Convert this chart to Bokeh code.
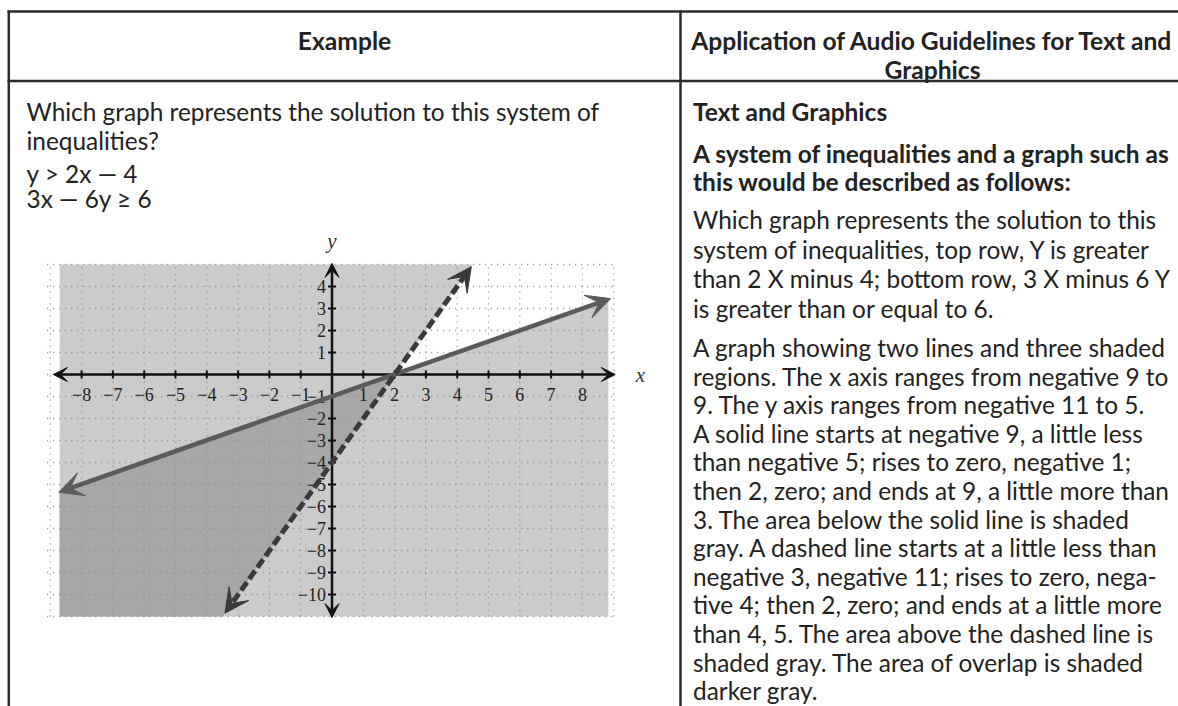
import numpy as np
from bokeh.plotting import figure
from bokeh.models import Range1d, Arrow, VeeHead
from bokeh.core.properties import value
from bokeh.embed import file_html
from bokeh.resources import INLINE

# ---------------- data ----------------
x_ticks = [-8, -7, -6, -5, -4, -3, -2, -1, 1, 2, 3, 4, 5, 6, 7, 8]
y_ticks = [-10, -9, -8, -7, -6, -5, -4, -3, -2, -1, 1, 2, 3, 4]
x_tick_labels = [str(v).replace("-", "\u2212") for v in x_ticks]
y_tick_labels = [str(v).replace("-", "\u2212") for v in y_ticks]
grid_x = list(range(-9, 10))
grid_y = list(range(-11, 6))

# solid line  3x - 6y >= 6
solid_x = [-8.73, 0, 2, 8.9]
solid_y = [-5.35, -1, 0, 3.45]
# dashed line  y > 2x - 4
dashed_x = [-3.42, 0, 2, 4.45]
dashed_y = [-10.85, -4, 0, 4.9]
# shaded window
shade_x = [-8.7, 8.83]
shade_y = [-11, 5]
axis_x = [-8.9, 9.05]
axis_y = [-11.05, 5.05]

header_left = "Example"
header_right = ["Application of Audio Guidelines for Text and", "Graphics"]
left_lines = ["Which graph represents the solution to this system of", "inequalities?"]
eq_lines = ["y > 2x \u2014 4", "3x \u2014 6y \u2265 6"]
right_bold = ["Text and Graphics", "A system of inequalities and a graph such as",
              "this would be described as follows:"]
right_para1 = ["Which graph represents the solution to this",
               "system of inequalities, top row, Y is greater",
               "than 2 X minus 4; bottom row, 3 X minus 6 Y",
               "is greater than or equal to 6."]
right_para2 = ["A graph showing two lines and three shaded",
               "regions. The x axis ranges from negative 9 to",
               "9. The y axis ranges from negative 11 to 5.",
               "A solid line starts at negative 9, a little less",
               "than negative 5; rises to zero, negative 1;",
               "then 2, zero; and ends at 9, a little more than",
               "3. The area below the solid line is shaded",
               "gray. A dashed line starts at a little less than",
               "negative 3, negative 11; rises to zero, nega-",
               "tive 4; then 2, zero; and ends at a little more",
               "than 4, 5. The area above the dashed line is",
               "shaded gray. The area of overlap is shaded",
               "darker gray."]

# ---------------- page layout (pixel -> graph units) ----------------
OX, OY = 331.5, 374.0
UX, UY = 31.3, 22.0
def dx(X):
    return (X - OX) / UX
def dy(Y):
    return (OY - Y) / UY
def dys(Ys):
    return [dy(v) for v in Ys]

W, H = 1178, 706
p = figure(width=W, height=H, x_range=Range1d(dx(0), dx(W)), y_range=Range1d(dy(H), dy(0)),
           x_axis_type=None, y_axis_type=None, toolbar_location=None, output_backend="svg",
           min_border=0, outline_line_color=None)
p.grid.visible = False

# ---------------- graph ----------------
sx0, sx1 = shade_x
sy0, sy1 = shade_y
sfit = np.polyfit(solid_x, solid_y, 1)
dfit = np.polyfit(dashed_x, dashed_y, 1)
def s_at(x):
    return float(np.polyval(sfit, x))
def d_inv(y):
    return float((y - dfit[1]) / dfit[0])
xi = float((dfit[1] - sfit[1]) / (sfit[0] - dfit[0]))
yi = s_at(xi)

light = "#cbcbcb"
dark = "#a7a7a7"
p.patch([sx0, sx1, sx1, sx0], [sy0, sy0, s_at(sx1), s_at(sx0)], fill_color=light, line_color=None)
p.patch([sx0, d_inv(sy0), d_inv(sy1), sx0], [sy0, sy0, sy1, sy1], fill_color=light, line_color=None)
p.patch([sx0, d_inv(sy0), xi, sx0], [sy0, sy0, yi, s_at(sx0)], fill_color=dark, line_color=None)

# dotted grid
p.segment(x0=grid_x, y0=[grid_y[0]] * len(grid_x), x1=grid_x, y1=[grid_y[-1]] * len(grid_x),
          line_color="#8c8c8c", line_width=1.3, line_dash="1 5")
p.segment(x0=[grid_x[0] - 0.1] * len(grid_y), y0=grid_y, x1=[grid_x[-1] + 0.1] * len(grid_y), y1=grid_y,
          line_color="#8c8c8c", line_width=1.3, line_dash="1 5")

# axes with arrows
ax_head = dict(size=14, fill_color="#111111", line_color="#111111")
p.add_layout(Arrow(x_start=axis_x[0], y_start=0, x_end=axis_x[1], y_end=0, line_width=2.5, line_color="#111111",
                   start=VeeHead(**ax_head), end=VeeHead(**ax_head)))
p.add_layout(Arrow(x_start=0, y_start=axis_y[0], x_end=0, y_end=axis_y[1], line_width=2.5, line_color="#111111",
                   start=VeeHead(**ax_head), end=VeeHead(**ax_head)))
tx = 4.0 / UX
ty = 4.0 / UY
p.segment(x0=x_ticks, y0=[-ty] * len(x_ticks), x1=x_ticks, y1=[ty] * len(x_ticks), line_color="#111111", line_width=2)
p.segment(x0=[-tx] * len(y_ticks), y0=y_ticks, x1=[tx] * len(y_ticks), y1=y_ticks, line_color="#111111", line_width=2)

serif = value("Liberation Serif")
p.text(x=x_ticks, y=[dy(OY + 19.5)] * len(x_ticks), text=x_tick_labels, text_font=serif, text_font_size="18px",
       text_align="center", text_baseline="middle", text_color="#222222")
p.text(x=[dx(OX - 6)] * len(y_ticks), y=y_ticks, text=y_tick_labels, text_font=serif, text_font_size="18px",
       text_align="right", text_baseline="middle", text_color="#222222")
p.text(x=[0], y=[dy(240)], text=["y"], text_font=serif, text_font_style="italic", text_font_size="21px",
       text_align="center", text_baseline="middle", text_color="#333333")
p.text(x=[dx(640)], y=[0], text=["x"], text_font=serif, text_font_style="italic", text_font_size="21px",
       text_align="center", text_baseline="middle", text_color="#333333")

# the two boundary lines
s_head = dict(size=24, fill_color="#5b5b5b", line_color="#5b5b5b")
p.add_layout(Arrow(x_start=solid_x[0], y_start=solid_y[0], x_end=solid_x[-1], y_end=solid_y[-1],
                   line_width=4.5, line_color="#5b5b5b", start=VeeHead(**s_head), end=VeeHead(**s_head)))
d_head = dict(size=24, fill_color="#3a3a3a", line_color="#3a3a3a")
p.add_layout(Arrow(x_start=dashed_x[0], y_start=dashed_y[0], x_end=dashed_x[-1], y_end=dashed_y[-1],
                   line_width=5, line_color="#3a3a3a", line_dash="10 4",
                   start=VeeHead(**d_head), end=VeeHead(**d_head)))

# ---------------- table ----------------
border = "#2b2b2b"
p.segment(x0=[dx(7), dx(7)], y0=[dy(11), dy(80.5)], x1=[dx(1190), dx(1190)], y1=[dy(11), dy(80.5)],
          line_color=border, line_width=2.5)
p.segment(x0=[dx(8.3), dx(680)], y0=[dy(10), dy(10)], x1=[dx(8.3), dx(680)], y1=[dy(730), dy(730)],
          line_color=border, line_width=2.5)

font = value("Lato")
tc = "#222222"
def lines(xpx, ys, txt, bold=False, align="left", fs="24.4px"):
    p.text(x=[dx(xpx)] * len(txt), y=dys(ys), text=txt, text_font=font, text_font_size=fs,
           text_font_style="bold" if bold else "normal", text_align=align, text_baseline="alphabetic",
           text_color=tc)

lines(344, [39.5], [header_left], bold=True, align="center", fs="24.6px")
lines(932, [39.5, 69], header_right, bold=True, align="center", fs="24.6px")
lines(26, [111, 140], left_lines)
lines(26, [172.5, 198], eq_lines)
lines(692.5, [111, 153, 180.5], right_bold, bold=True, fs="24.5px")
lines(692.5, [219 + i * 29.6 for i in range(4)], right_para1)
lines(692.5, [347 + i * 28.6 for i in range(13)], right_para2)

open("out.html", "w").write(file_html(p, INLINE))
